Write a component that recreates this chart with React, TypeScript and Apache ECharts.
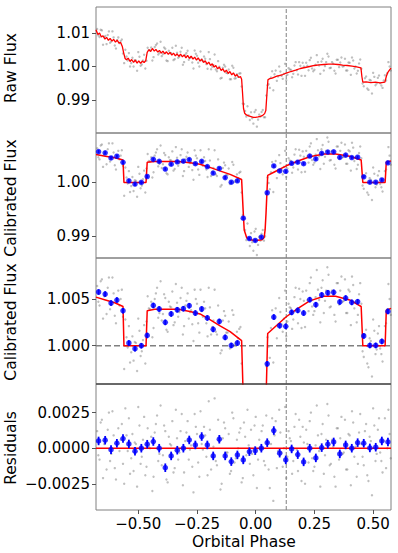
import React, { useEffect, useRef } from "react";
import * as echarts from "echarts";

// ---------- axes ----------
const phaseRange = [-0.68, 0.576];
const phaseTicks = [-0.5, -0.25, 0, 0.25, 0.5];
const rawRange = [0.9801, 1.0178];
const rawTicks = [0.99, 1.0, 1.01];
const calRange = [0.98585, 1.00924];
const calTicks = [0.99, 1.0];
const zoomRange = [0.9959, 1.00939];
const zoomTicks = [1.0, 1.005];
const residRange = [-0.00434, 0.00451];
const residTicks = [-0.0025, 0, 0.0025];
const markPhase = 0.13;
const baseline = 1.0;

// ---------- models ----------
const rawModel: [number, number][] = [
  [-0.68, 1.011], [-0.672, 1.0096], [-0.665, 1.01], [-0.657, 1.0088], [-0.65, 1.0092], [-0.642, 1.0082],
  [-0.635, 1.0087], [-0.627, 1.0078], [-0.62, 1.0084], [-0.612, 1.0076], [-0.605, 1.0081], [-0.597, 1.0073],
  [-0.59, 1.0079], [-0.582, 1.007], [-0.575, 1.0072], [-0.568, 1.006], [-0.562, 1.004], [-0.556, 1.0024],
  [-0.55, 1.002], [-0.543, 1.0025], [-0.535, 1.0015], [-0.528, 1.0021], [-0.52, 1.0012], [-0.513, 1.0019],
  [-0.505, 1.001], [-0.498, 1.0017], [-0.49, 1.0009], [-0.483, 1.0016], [-0.475, 1.0012], [-0.468, 1.0018],
  [-0.462, 1.0042], [-0.455, 1.005], [-0.447, 1.0045], [-0.44, 1.0054], [-0.432, 1.0046], [-0.425, 1.0051],
  [-0.417, 1.0043], [-0.41, 1.0048], [-0.402, 1.004], [-0.395, 1.0046], [-0.387, 1.0038], [-0.38, 1.0044],
  [-0.372, 1.0036], [-0.365, 1.0042], [-0.357, 1.0034], [-0.35, 1.004], [-0.342, 1.0032], [-0.335, 1.0038],
  [-0.327, 1.003], [-0.32, 1.0037], [-0.312, 1.0029], [-0.305, 1.0035], [-0.297, 1.0026], [-0.29, 1.0033],
  [-0.282, 1.0024], [-0.275, 1.0031], [-0.267, 1.0022], [-0.26, 1.0028], [-0.252, 1.0019], [-0.245, 1.0026],
  [-0.237, 1.0016], [-0.23, 1.0022], [-0.222, 1.0012], [-0.215, 1.0017], [-0.207, 1.0007], [-0.2, 1.0013],
  [-0.192, 1.0003], [-0.185, 1.0008], [-0.177, 0.9998], [-0.17, 1.0003], [-0.162, 0.9993], [-0.155, 0.9998],
  [-0.147, 0.9988], [-0.14, 0.9993], [-0.132, 0.9983], [-0.125, 0.9989], [-0.117, 0.9979], [-0.11, 0.9985],
  [-0.102, 0.9975], [-0.095, 0.9981], [-0.087, 0.9971], [-0.08, 0.9976], [-0.072, 0.9967], [-0.065, 0.997],
  [-0.06, 0.9962], [-0.056, 0.992], [-0.052, 0.9875], [-0.047, 0.986], [-0.04, 0.9855], [-0.03, 0.9852],
  [-0.02, 0.985], [-0.01, 0.9848], [0.0, 0.9848], [0.01, 0.9849], [0.02, 0.9851], [0.03, 0.9854],
  [0.038, 0.9859], [0.043, 0.9868], [0.047, 0.991], [0.052, 0.996], [0.06, 0.9964], [0.07, 0.9965],
  [0.08, 0.9968], [0.09, 0.9971], [0.1, 0.9973], [0.115, 0.9976], [0.13, 0.998], [0.15, 0.9985],
  [0.17, 0.9989], [0.19, 0.9994], [0.21, 0.9997], [0.23, 1.0], [0.25, 1.0003], [0.27, 1.0005],
  [0.29, 1.0006], [0.31, 1.0007], [0.33, 1.0007], [0.35, 1.0006], [0.37, 1.0004], [0.39, 1.0003],
  [0.41, 1.0001], [0.43, 0.9999], [0.448, 0.9996], [0.452, 0.997], [0.456, 0.9953], [0.47, 0.9954],
  [0.49, 0.9952], [0.51, 0.9953], [0.53, 0.9951], [0.55, 0.9953], [0.556, 0.997], [0.562, 0.9982],
  [0.57, 0.999], [0.576, 0.9995],
];

const calModel: [number, number][] = [
  [-0.68, 1.0052], [-0.64, 1.0049], [-0.6, 1.0046], [-0.565, 1.0042], [-0.561, 1.0], [-0.467, 1.0],
  [-0.462, 1.00375], [-0.43, 1.0039], [-0.33, 1.0039], [-0.28, 1.00367], [-0.237, 1.0034], [-0.195, 1.0028],
  [-0.15, 1.0021], [-0.109, 1.0015], [-0.06, 1.00054], [-0.053, 0.9943], [-0.049, 0.9911], [-0.038, 0.9896],
  [-0.024, 0.98925], [0.0, 0.98913], [0.027, 0.98925], [0.036, 0.9897], [0.04, 0.9911], [0.044, 0.9943],
  [0.051, 1.0013], [0.077, 1.0019], [0.13, 1.0031], [0.18, 1.004], [0.23, 1.0048], [0.29, 1.0053],
  [0.34, 1.0053], [0.4, 1.0049], [0.449, 1.0042], [0.456, 1.0], [0.551, 1.0], [0.556, 1.0038], [0.576, 1.004],
];

const residModel: [number, number][] = [[-0.68, 0], [0.576, 0]];

// ---------- binned points ----------
const binPhase = [
  -0.669, -0.641, -0.616, -0.591, -0.565, -0.54, -0.514, -0.487, -0.462, -0.436,
  -0.411, -0.385, -0.36, -0.334, -0.308, -0.283, -0.257, -0.23, -0.206, -0.181,
  -0.155, -0.13, -0.104, -0.078, -0.053, -0.027, -0.002, 0.024, 0.049, 0.077,
  0.102, 0.128, 0.153, 0.179, 0.204, 0.23, 0.256, 0.281, 0.307, 0.332,
  0.358, 0.383, 0.409, 0.434, 0.46, 0.486, 0.511, 0.537, 0.563,
];
const binFlux = [
  1.00575, 1.00553, 1.00457, 1.00489, 1.00375, 1.00029, 0.99968, 1.0, 1.0011, 1.00431,
  1.00393, 1.0025, 1.0034, 1.00385, 1.00396, 1.00428, 1.0035, 1.00393, 1.00297, 1.00175,
  1.0026, 1.00089, 1.00003, 1.00029, 0.9933, 0.9895, 0.98913, 0.98976, 0.99806, 1.00307,
  1.00214, 1.00207, 1.00357, 1.00378, 1.0035, 1.00493, 1.00439, 1.00543, 1.00567, 1.00571,
  1.00468, 1.0051, 1.00464, 1.00471, 1.00104, 1.00003, 1.00003, 1.00046, 1.00367,
];
const binResid = [
  0.00051, 0.00056, -0.0001, 0.00035, 0.00068, 0.0003, -0.00021, 0.0, 0.00028, 0.00047,
  0.0, -0.00137, -0.00054, -0.00014, 0.0, 0.00058, 0.00023, 0.00082, 0.00023, -0.00054,
  0.00063, -0.00054, -0.00094, -0.00047, -0.00082, -0.00024, -0.00017, 0.0, 0.00039, 0.00124,
  -0.00035, -0.00082, -0.00005, -0.00045, -0.00096, 0.0, -0.00068, 0.00004, 0.00028, 0.00044,
  -0.0004, 0.00023, 0.0, 0.00039, 0.00035, 0.00002, 0.00007, 0.00051, 0.00044,
];
const binErr = 0.0003;

// ---------- unbinned points (set A) ----------
const grayPhaseA = [
  -0.675, -0.665, -0.655, -0.645, -0.635, -0.625, -0.615, -0.605, -0.595, -0.585,
  -0.575, -0.565, -0.555, -0.545, -0.535, -0.525, -0.515, -0.505, -0.495, -0.485,
  -0.475, -0.465, -0.455, -0.445, -0.435, -0.425, -0.415, -0.405, -0.395, -0.385,
  -0.375, -0.365, -0.355, -0.345, -0.335, -0.325, -0.315, -0.305, -0.295, -0.285,
  -0.275, -0.265, -0.255, -0.245, -0.235, -0.225, -0.215, -0.205, -0.195, -0.185,
  -0.175, -0.165, -0.155, -0.145, -0.135, -0.125, -0.115, -0.105, -0.095, -0.085,
  -0.075, -0.065, -0.055, -0.045, -0.035, -0.025, -0.015, -0.005, 0.005, 0.015,
  0.025, 0.035, 0.045, 0.055, 0.065, 0.075, 0.085, 0.095, 0.105, 0.115,
  0.125, 0.135, 0.145, 0.155, 0.165, 0.175, 0.185, 0.195, 0.205, 0.215,
  0.225, 0.235, 0.245, 0.255, 0.265, 0.275, 0.285, 0.295, 0.305, 0.315,
  0.325, 0.335, 0.345, 0.355, 0.365, 0.375, 0.385, 0.395, 0.405, 0.415,
  0.425, 0.435, 0.445, 0.455, 0.465, 0.475, 0.485, 0.495, 0.505, 0.515,
  0.525, 0.535, 0.545, 0.555, 0.565, 0.575,
];
const rawGrayA = [
  1.0112, 1.0088, 1.0108, 1.0088, 1.0067, 1.0105, 1.0075, 1.0087, 1.0054, 1.0087,
  1.0076, 1.0039, 1.005, 1.0018, 1.0, 1.0026, 1.0019, 0.9987, 1.0029, 1.0006,
  1.0035, 1.0017, 1.0049, 1.0057, 1.0028, 1.0064, 1.0036, 1.0074, 1.0037, 1.0053,
  1.0016, 1.0041, 1.0056, 1.0022, 1.0041, 1.003, 1.0056, 1.0013, 1.004, 1.002,
  1.0028, 0.9994, 1.0038, 1.0011, 1.0045, 1.0016, 1.0023, 0.9993, 1.0022, 0.9999,
  1.0036, 0.9986, 0.9999, 0.9966, 1.0005, 0.9981, 0.9991, 0.9962, 0.9996, 0.9965,
  0.9969, 0.998, 0.9889, 0.9867, 0.9881, 0.984, 0.9845, 0.9864, 0.982, 0.9856,
  0.9864, 0.9848, 0.9913, 0.9947, 0.9967, 0.9929, 0.9988, 0.997, 0.9985, 0.9963,
  1.0008, 0.9975, 0.9991, 0.9968, 1.0003, 0.9989, 1.0013, 0.9972, 1.0, 1.0011,
  0.9989, 1.0026, 0.9986, 1.0005, 1.0013, 0.9978, 1.0023, 1.0001, 1.0038, 0.9995,
  1.0013, 0.9987, 1.002, 0.9998, 1.0027, 1.0001, 0.9988, 1.0012, 0.9975, 1.0018,
  1.0, 0.9987, 1.0021, 0.9949, 0.9965, 0.9934, 0.996, 0.9919, 0.9969, 0.9949,
  0.9973, 0.9943, 0.9958, 0.9958, 1.0013, 0.9988,
];
const calGrayA = [
  1.0064, 1.0043, 1.0071, 1.0053, 1.0034, 1.0073, 1.0044, 1.0056, 1.0024, 1.0059,
  1.005, 1.0031, 1.0028, 0.9998, 0.9982, 1.001, 1.0004, 0.9973, 1.0016, 0.9994,
  1.0022, 1.0026, 1.004, 1.0047, 1.0019, 1.0056, 1.003, 1.0069, 1.0034, 1.0051,
  1.0015, 1.0042, 1.0058, 1.0025, 1.0046, 1.0036, 1.0062, 1.0021, 1.0048, 1.0029,
  1.0038, 1.0005, 1.005, 1.0024, 1.006, 1.0031, 1.004, 1.001, 1.0041, 1.002,
  1.006, 1.0012, 1.0027, 0.9995, 1.0037, 1.0014, 1.0026, 0.9999, 1.0033, 1.0003,
  1.0008, 1.002, 0.9939, 0.9911, 0.9923, 0.9881, 0.9888, 0.9908, 0.9864, 0.9898,
  0.9904, 0.9891, 0.9978, 0.9999, 1.0019, 0.9982, 1.004, 1.0021, 1.0036, 1.0015,
  1.0059, 1.0026, 1.0041, 1.0018, 1.0052, 1.0038, 1.0061, 1.0019, 1.0048, 1.0059,
  1.0037, 1.0073, 1.0033, 1.0052, 1.006, 1.0025, 1.007, 1.0048, 1.0084, 1.0041,
  1.0059, 1.0033, 1.0067, 1.0044, 1.0074, 1.0048, 1.0035, 1.006, 1.0022, 1.0065,
  1.0047, 1.0033, 1.0067, 0.9994, 1.0012, 0.9981, 1.0008, 0.9967, 1.0016, 0.9996,
  1.0021, 0.9991, 1.0005, 1.0024, 1.0066, 1.0033,
];
const residGrayA = [
  0.0012, -0.0008, 0.002, 0.0003, -0.0015, 0.0025, -0.0004, 0.0009, -0.0022, 0.0014,
  0.0006, -0.0011, 0.0028, -0.0002, -0.0018, 0.001, 0.0004, -0.0027, 0.0016, -0.0006,
  0.0022, -0.0013, 0.0001, 0.0008, -0.002, 0.0017, -0.0009, 0.003, -0.0005, 0.0012,
  -0.0024, 0.0003, 0.0019, -0.0014, 0.0007, -0.0003, 0.0024, -0.0017, 0.0011, -0.0008,
  0.0002, -0.0031, 0.0015, -0.001, 0.0026, -0.0001, 0.0009, -0.0019, 0.0013, -0.0006,
  0.0035, -0.0012, 0.0005, -0.0025, 0.0018, -0.0003, 0.001, -0.0016, 0.0021, -0.0007,
  0.0, 0.0014, -0.0021, 0.0008, 0.0027, -0.0011, -0.0004, 0.0016, -0.0028, 0.0006,
  0.0012, -0.0009, 0.0023, -0.0015, 0.0003, -0.0037, 0.0019, -0.0002, 0.0011, -0.0013,
  0.0029, -0.0006, 0.0007, -0.0018, 0.0015, -0.0001, 0.002, -0.0023, 0.0004, 0.0013,
  -0.001, 0.0025, -0.0016, 0.0002, 0.0009, -0.0027, 0.0017, -0.0005, 0.0031, -0.0012,
  0.0006, -0.002, 0.0014, -0.0008, 0.0022, -0.0003, -0.0015, 0.001, -0.0026, 0.0018,
  0.0001, -0.0011, 0.0024, -0.0006, 0.0012, -0.0019, 0.0008, -0.0033, 0.0016, -0.0004,
  0.0021, -0.0009, 0.0005, -0.0014, 0.0027, -0.0007,
];

// ---------- unbinned points (set B) ----------
const grayPhaseB = [
  -0.67, -0.66, -0.65, -0.64, -0.63, -0.62, -0.61, -0.6, -0.59, -0.58,
  -0.57, -0.56, -0.55, -0.54, -0.53, -0.52, -0.51, -0.5, -0.49, -0.48,
  -0.47, -0.46, -0.45, -0.44, -0.43, -0.42, -0.41, -0.4, -0.39, -0.38,
  -0.37, -0.36, -0.35, -0.34, -0.33, -0.32, -0.31, -0.3, -0.29, -0.28,
  -0.27, -0.26, -0.25, -0.24, -0.23, -0.22, -0.21, -0.2, -0.19, -0.18,
  -0.17, -0.16, -0.15, -0.14, -0.13, -0.12, -0.11, -0.1, -0.09, -0.08,
  -0.07, -0.06, -0.05, -0.04, -0.03, -0.02, -0.01, 0.0, 0.01, 0.02,
  0.03, 0.04, 0.05, 0.06, 0.07, 0.08, 0.09, 0.1, 0.11, 0.12,
  0.13, 0.14, 0.15, 0.16, 0.17, 0.18, 0.19, 0.2, 0.21, 0.22,
  0.23, 0.24, 0.25, 0.26, 0.27, 0.28, 0.29, 0.3, 0.31, 0.32,
  0.33, 0.34, 0.35, 0.36, 0.37, 0.38, 0.39, 0.4, 0.41, 0.42,
  0.43, 0.44, 0.45, 0.46, 0.47, 0.48, 0.49, 0.5, 0.51, 0.52,
  0.53, 0.54, 0.55, 0.56, 0.57,
];
const rawGrayB = [
  1.0093, 1.011, 1.0065, 1.0091, 1.0094, 1.0071, 1.0105, 1.0063, 1.0079, 1.007,
  1.0081, 1.001, 1.003, 1.004, 1.001, 1.0, 1.0018, 1.0043, 1.0002, 1.0018,
  0.9994, 1.0056, 1.0049, 1.0018, 1.0058, 1.0069, 1.004, 1.0031, 1.0057, 1.0018,
  1.0047, 1.004, 1.0019, 1.0062, 1.0026, 1.0044, 1.0005, 1.0035, 1.0047, 1.0026,
  1.0012, 1.0048, 1.0032, 1.0, 1.0021, 1.003, 1.0007, 1.0043, 0.9992, 1.0004,
  0.9991, 1.0016, 0.9964, 0.9996, 1.0, 0.998, 0.9962, 1.0002, 0.9964, 0.9977,
  0.9979, 0.994, 0.9888, 0.985, 0.9854, 0.9863, 0.9829, 0.987, 0.9841, 0.985,
  0.987, 0.9848, 0.9944, 0.9936, 0.9986, 0.9977, 0.9957, 1.0, 0.9972, 0.9978,
  0.9959, 0.9995, 0.999, 0.9978, 1.0013, 0.9976, 1.0002, 1.0011, 0.9972, 1.0002,
  1.0019, 0.9994, 0.999, 1.0034, 1.0003, 1.0015, 0.9988, 1.0013, 1.003, 0.9996,
  1.0008, 0.9979, 1.002, 1.0012, 1.0, 1.0023, 0.9988, 1.0011, 1.0027, 0.9994,
  0.9979, 1.0009, 0.9993, 0.9941, 0.997, 0.993, 0.9958, 0.9981, 0.9944, 0.9966,
  0.995, 0.9936, 0.9974, 0.998, 1.0,
];
const calGrayB = [
  1.0047, 1.0069, 1.0029, 1.0056, 1.0062, 1.0039, 1.0073, 1.0032, 1.005, 1.0043,
  1.006, 0.9975, 1.0009, 1.0021, 0.9993, 0.9984, 1.0003, 1.0029, 0.9989, 1.0006,
  0.9981, 1.0053, 1.0039, 1.0009, 1.005, 1.0062, 1.0035, 1.0027, 1.0055, 1.0017,
  1.0047, 1.0041, 1.0022, 1.0066, 1.0031, 1.0051, 1.0012, 1.0043, 1.0056, 1.0036,
  1.0023, 1.006, 1.0045, 1.0014, 1.0037, 1.0047, 1.0024, 1.0062, 1.0012, 1.0027,
  1.0015, 1.0043, 0.9992, 1.0027, 1.0032, 1.0014, 0.9997, 1.0038, 1.0001, 1.0015,
  1.0018, 0.9981, 0.9933, 0.9892, 0.9895, 0.9905, 0.9872, 0.9913, 0.9883, 0.9891,
  0.9911, 0.9899, 1.0009, 0.9987, 1.0038, 1.0029, 1.0008, 1.0051, 1.0023, 1.0029,
  1.001, 1.0045, 1.004, 1.0028, 1.0062, 1.0024, 1.005, 1.0058, 1.002, 1.0049,
  1.0067, 1.0042, 1.0037, 1.0081, 1.0049, 1.0062, 1.0035, 1.0059, 1.0076, 1.0042,
  1.0054, 1.0026, 1.0067, 1.0059, 1.0047, 1.0071, 1.0035, 1.0058, 1.0074, 1.004,
  1.0025, 1.0055, 1.0045, 0.9988, 1.0017, 0.9977, 1.0005, 1.0028, 0.9991, 1.0013,
  0.9997, 0.9983, 1.0021, 1.0039, 1.005,
];
const residGrayB = [
  -0.0005, 0.0018, -0.0021, 0.0007, 0.0013, -0.0009, 0.0026, -0.0014, 0.0004, -0.0002,
  0.0017, -0.0025, 0.0009, 0.0021, -0.0007, -0.0016, 0.0003, 0.0029, -0.0011, 0.0006,
  -0.0019, 0.0014, 0.0, -0.003, 0.0011, 0.0023, -0.0004, -0.0012, 0.0016, -0.0022,
  0.0008, 0.0002, -0.0017, 0.0027, -0.0008, 0.0012, -0.0026, 0.0005, 0.0019, -0.0001,
  -0.0013, 0.0024, 0.001, -0.002, 0.0003, 0.0015, -0.0006, 0.0033, -0.0015, 0.0001,
  -0.0009, 0.002, -0.0029, 0.0007, 0.0014, -0.0003, -0.0018, 0.0025, -0.001, 0.0006,
  0.0011, -0.0024, 0.0018, -0.0005, 0.0002, 0.0013, -0.0019, 0.0022, -0.0008, -0.0001,
  0.0016, -0.0012, 0.0004, -0.0028, 0.0021, 0.0009, -0.0014, 0.0027, -0.0003, 0.0,
  -0.0021, 0.0012, 0.0005, -0.0009, 0.0024, -0.0016, 0.0008, 0.0015, -0.0025, 0.0003,
  0.0019, -0.0007, -0.0013, 0.003, -0.0002, 0.001, -0.0018, 0.0006, 0.0023, -0.0011,
  0.0001, -0.0027, 0.0014, 0.0007, -0.0004, 0.002, -0.0015, 0.0009, 0.0026, -0.0006,
  -0.002, 0.0011, 0.0003, -0.0012, 0.0017, -0.0023, 0.0005, 0.0028, -0.0009, 0.0013,
  -0.0003, -0.0017, 0.0021, 0.0, 0.001,
];

const FONT = "DejaVu Sans";
const MINUS = "\u2212";
const fmt = (d: number) => (v: number) =>
  v < -1e-12 ? MINUS + Math.abs(v).toFixed(d) : Math.abs(v).toFixed(d);

const GRID_LEFT = 96;
const GRID_W = 295;
const grids = [
  { top: 7, height: 126 },
  { top: 133, height: 125 },
  { top: 258, height: 126 },
  { top: 384, height: 126 },
];

export default function App() {
  const ref = useRef<HTMLDivElement>(null);
  useEffect(() => {
    if (!ref.current) return;
    const chart = echarts.init(ref.current, undefined, { renderer: "svg" });

    const pairs = (xs: number[], ys: number[]) => xs.map((x, i) => [x, ys[i]]);
    const triples = (xs: number[], ys: number[]) => xs.map((x, i) => [x, ys[i], binErr]);

    const yAxes = [
      { range: rawRange, ticks: rawTicks, d: 2 },
      { range: calRange, ticks: calTicks, d: 2 },
      { range: zoomRange, ticks: zoomTicks, d: 3 },
      { range: residRange, ticks: residTicks, d: 4 },
    ];

    const scatterGray = (idx: number, data: number[][]) => ({
      type: "scatter",
      xAxisIndex: idx,
      yAxisIndex: idx,
      data,
      symbolSize: 2.4,
      itemStyle: { color: "rgba(110,110,110,0.55)" },
      clip: true,
      silent: true,
      z: 1,
    });

    const refLine = (idx: number, data: number[][], w: number, dash: number[]) => ({
      type: "line",
      xAxisIndex: idx,
      yAxisIndex: idx,
      data,
      symbol: "none",
      showSymbol: false,
      silent: true,
      lineStyle: { color: "#808080", width: w, type: dash },
      clip: true,
      z: 2,
    });

    const redLine = (idx: number, data: number[][], w = 1.5) => ({
      type: "line",
      xAxisIndex: idx,
      yAxisIndex: idx,
      data,
      symbol: "none",
      showSymbol: false,
      lineStyle: { color: "#ff0000", width: w },
      clip: true,
      z: 3,
    });

    const bluePts = (idx: number, data: number[][]) => ({
      type: "scatter",
      xAxisIndex: idx,
      yAxisIndex: idx,
      data,
      symbolSize: 5.5,
      itemStyle: { color: "#0000ff" },
      clip: true,
      z: 5,
    });

    const errBars = (idx: number, data: number[][]) => ({
      type: "custom",
      xAxisIndex: idx,
      yAxisIndex: idx,
      data,
      clip: true,
      z: 4,
      renderItem: (_p: any, api: any) => {
        const x = api.value(0);
        const y = api.value(1);
        const e = api.value(2);
        const a = api.coord([x, y - e]);
        const b = api.coord([x, y + e]);
        return {
          type: "line",
          shape: { x1: a[0], y1: a[1], x2: b[0], y2: b[1] },
          style: { stroke: "#0000ff", lineWidth: 1.8 },
        };
      },
    });

    const labelText = (text: string, x: number, y: number, rot: number) => ({
      type: "text",
      x,
      y,
      rotation: rot,
      style: {
        text,
        fill: "#000",
        font: `15.5px '${FONT}'`,
        align: "center",
        verticalAlign: "middle",
      },
    });

    const ranges = [rawRange, calRange, zoomRange, residRange];
    const vLine = (i: number) =>
      refLine(i, [[markPhase, ranges[i][0]], [markPhase, ranges[i][1]]], 1, [4, 2]);

    const option: any = {
      animation: false,
      backgroundColor: "#ffffff",
      grid: grids.map((g) => ({
        left: GRID_LEFT,
        top: g.top,
        width: GRID_W,
        height: g.height,
        show: true,
        borderColor: "#808080",
        borderWidth: 1,
        backgroundColor: "transparent",
        containLabel: false,
      })),
      xAxis: grids.map((_, i) => ({
        type: "value",
        gridIndex: i,
        position: "bottom",
        min: phaseRange[0],
        max: phaseRange[1],
        axisLine: { show: false, onZero: false },
        splitLine: { show: false },
        axisTick: {
          show: i === 3,
          customValues: phaseTicks,
          length: 4,
          lineStyle: { color: "#555" },
        },
        axisLabel: {
          show: i === 3,
          customValues: phaseTicks,
          formatter: fmt(2),
          fontSize: 15,
          fontFamily: FONT,
          color: "#000",
          margin: 6,
        },
      })),
      yAxis: yAxes.map((a, i) => ({
        type: "value",
        gridIndex: i,
        position: "left",
        min: a.range[0],
        max: a.range[1],
        axisLine: { show: false, onZero: false },
        splitLine: { show: false },
        axisTick: {
          show: true,
          customValues: a.ticks,
          length: 4,
          lineStyle: { color: "#555" },
        },
        axisLabel: {
          show: true,
          customValues: a.ticks,
          formatter: fmt(a.d),
          fontSize: 15,
          fontFamily: FONT,
          color: "#000",
          margin: 6,
        },
      })),
      series: [
        // panel 1: raw flux
        scatterGray(0, pairs(grayPhaseA, rawGrayA)),
        scatterGray(0, pairs(grayPhaseB, rawGrayB)),
        vLine(0),
        redLine(0, rawModel, 1.3),
        // panel 2: calibrated
        scatterGray(1, pairs(grayPhaseA, calGrayA)),
        scatterGray(1, pairs(grayPhaseB, calGrayB)),
        vLine(1),
        redLine(1, calModel),
        errBars(1, triples(binPhase, binFlux)),
        bluePts(1, pairs(binPhase, binFlux)),
        // panel 3: zoomed calibrated
        scatterGray(2, pairs(grayPhaseA, calGrayA)),
        scatterGray(2, pairs(grayPhaseB, calGrayB)),
        vLine(2),
        refLine(2, [[phaseRange[0], baseline], [phaseRange[1], baseline]], 1.5, [6, 3]),
        redLine(2, calModel),
        errBars(2, triples(binPhase, binFlux)),
        bluePts(2, pairs(binPhase, binFlux)),
        // panel 4: residuals
        scatterGray(3, pairs(grayPhaseA, residGrayA)),
        scatterGray(3, pairs(grayPhaseB, residGrayB)),
        vLine(3),
        redLine(3, residModel),
        errBars(3, triples(binPhase, binResid)),
        bluePts(3, pairs(binPhase, binResid)),
      ],
      graphic: [
        labelText("Raw Flux", 11, 68, Math.PI / 2),
        labelText("Calibrated Flux", 11, 198, Math.PI / 2),
        labelText("Calibrated Flux", 11, 322, Math.PI / 2),
        labelText("Residuals", 11, 448, Math.PI / 2),
        labelText("Orbital Phase", 244, 542, 0),
        {
          type: "line",
          shape: { x1: GRID_LEFT, y1: 384, x2: GRID_LEFT + GRID_W, y2: 384 },
          style: { stroke: "#333", lineWidth: 1 },
          z: 10,
        },
      ],
    };

    chart.setOption(option);
    return () => chart.dispose();
  }, []);

  return (
    <div
      ref={ref}
      style={{ position: "fixed", left: 0, top: 0, width: 398, height: 553, background: "#fff" }}
    />
  );
}
